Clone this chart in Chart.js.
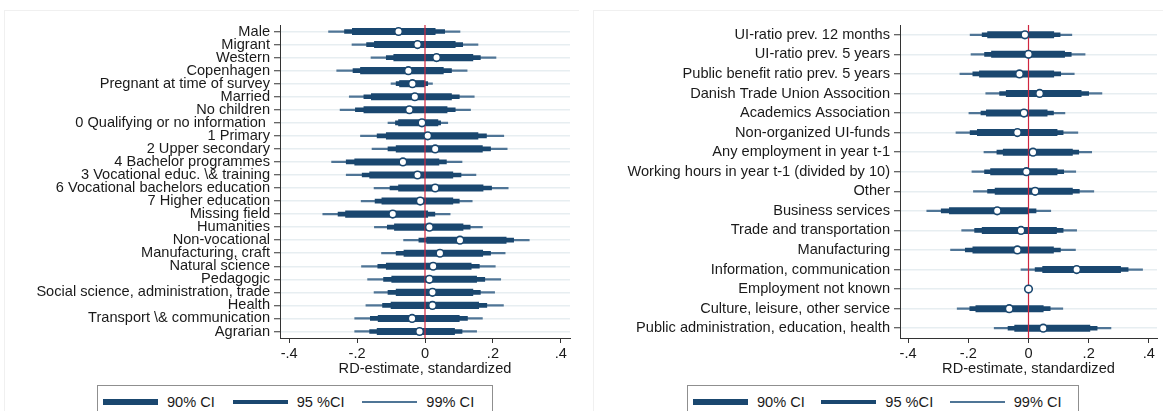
<!DOCTYPE html>
<html>
<head>
<meta charset="utf-8">
<script src="https://cdn.jsdelivr.net/npm/chart.js@4.4.1/dist/chart.umd.min.js"></script>
<style>
  body { margin: 0; background: #fff; width: 1163px; height: 411px; overflow: hidden; position: relative;
         font-family: "Liberation Sans", Arial, sans-serif; }
  .panel { position: absolute; top: 0; }
  .frame { position: absolute; top: 10px; height: 420px; border-top: 1px solid #f0f0f0; border-left: 1px solid #f0f0f0; }
  .legend { position: absolute; top: 385px; height: 34px; border: 1px solid #8f8f8f; box-sizing: border-box;
            display: flex; align-items: center; padding-left: 5px; background: #fff; }
  .item { width: 135px; display: flex; align-items: center; font-size: 14.6px; color: #1a1a1a; }
  .swatch { width: 55px; margin-right: 9px; }
</style>
</head>
<body>
<div class="frame" style="left:4px; width:574px"></div>
<div class="frame" style="left:593px; width:580px"></div>
<canvas id="left" class="panel" style="left:0" width="580" height="385"></canvas>
<canvas id="right" class="panel" style="left:580px" width="583" height="385"></canvas>
<div class="legend" id="legendLeft" style="left:97px; width:396px"></div>
<div class="legend" id="legendRight" style="left:687px; width:392px"></div>
<script>
// individual characteristics
const leftLabels = [
  'Male', 'Migrant', 'Western', 'Copenhagen', 'Pregnant at time of survey', 'Married', 'No children',
  '0 Qualifying or no information ', '1 Primary', '2 Upper secondary', '4 Bachelor programmes',
  '3 Vocational educ. \\& training', '6 Vocational bachelors education', '7 Higher education',
  'Missing field', 'Humanities', 'Non-vocational', 'Manufacturing, craft', 'Natural science',
  'Pedagogic', 'Social science, administration, trade', 'Health', 'Transport \\& communication', 'Agrarian'
];
const leftEst  = [-0.078, -0.022, 0.034, -0.049, -0.037, -0.030, -0.046, -0.009, 0.008, 0.030, -0.065, -0.022,
                  0.030, -0.014, -0.095, 0.013, 0.103, 0.044, 0.024, 0.013, 0.022, 0.022, -0.038, -0.016];
const leftLo90 = [-0.214, -0.149, -0.092, -0.190, -0.075, -0.158, -0.180, -0.078, -0.114, -0.085, -0.207, -0.163,
                  -0.078, -0.127, -0.234, -0.090, 0.005, -0.062, -0.114, -0.098, -0.085, -0.100, -0.138, -0.141];
const leftHi90 = [0.030, 0.089, 0.141, 0.054, 0.000, 0.078, 0.065, 0.038, 0.156, 0.169, 0.041, 0.082,
                  0.171, 0.082, 0.008, 0.112, 0.239, 0.170, 0.136, 0.152, 0.141, 0.158, 0.101, 0.087];
const leftLo95 = [-0.237, -0.172, -0.114, -0.212, -0.085, -0.180, -0.205, -0.087, -0.141, -0.109, -0.232, -0.185,
                  -0.103, -0.147, -0.256, -0.111, -0.018, -0.085, -0.139, -0.122, -0.109, -0.125, -0.161, -0.163];
const leftHi95 = [0.058, 0.111, 0.163, 0.078, 0.008, 0.101, 0.089, 0.046, 0.181, 0.193, 0.063, 0.106,
                  0.196, 0.101, 0.029, 0.133, 0.261, 0.193, 0.160, 0.176, 0.163, 0.182, 0.125, 0.109];
const leftLo99 = [-0.284, -0.215, -0.159, -0.260, -0.100, -0.223, -0.250, -0.109, -0.190, -0.156, -0.275, -0.232,
                  -0.150, -0.188, -0.301, -0.149, -0.063, -0.128, -0.187, -0.169, -0.150, -0.174, -0.207, -0.207];
const leftHi99 = [0.103, 0.156, 0.209, 0.124, 0.022, 0.145, 0.134, 0.067, 0.232, 0.242, 0.109, 0.150,
                  0.245, 0.139, 0.074, 0.169, 0.307, 0.236, 0.207, 0.223, 0.205, 0.231, 0.169, 0.152];

// labour market history
const rightLabels = [
  'UI-ratio prev. 12 months', 'UI-ratio prev. 5 years', 'Public benefit ratio prev. 5 years',
  'Danish Trade Union Assocition', 'Academics Association', 'Non-organized UI-funds',
  'Any employment in year t-1', 'Working hours in year t-1 (divided by 10)', 'Other', 'Business services',
  'Trade and transportation', 'Manufacturing', 'Information, communication', 'Employment not known',
  'Culture, leisure, other service', 'Public administration, education, health'
];
const rightEst  = [-0.012, 0.000, -0.030, 0.037, -0.015, -0.037, 0.015, -0.007, 0.022, -0.104, -0.025, -0.037, 0.160, 0.000, -0.064, 0.049];
const rightLo90 = [-0.136, -0.123, -0.163, -0.074, -0.140, -0.170, -0.084, -0.126, -0.111, -0.263, -0.154, -0.185, 0.047, null, -0.175, -0.046];
const rightHi90 = [0.084, 0.120, 0.084, 0.175, 0.062, 0.095, 0.146, 0.095, 0.146, 0.000, 0.093, 0.083, 0.306, null, 0.049, 0.204];
const rightLo95 = [-0.154, -0.146, -0.185, -0.096, -0.158, -0.194, -0.105, -0.146, -0.136, -0.290, -0.179, -0.210, 0.022, null, -0.195, -0.068];
const rightHi95 = [0.105, 0.142, 0.107, 0.200, 0.083, 0.115, 0.167, 0.117, 0.169, 0.025, 0.115, 0.106, 0.331, null, 0.072, 0.228];
const rightLo99 = [-0.194, -0.191, -0.228, -0.142, -0.198, -0.241, -0.148, -0.188, -0.183, -0.338, -0.222, -0.259, -0.025, null, -0.237, -0.114];
const rightHi99 = [0.144, 0.188, 0.152, 0.244, 0.121, 0.164, 0.210, 0.157, 0.217, 0.074, 0.160, 0.156, 0.379, null, 0.114, 0.274];

const xTicks = [-0.4, -0.2, 0, 0.2, 0.4];
const xTickLabels = ['-.4', '-.2', '0', '.2', '.4'];
const xTitle = 'RD-estimate, standardized';
const ciNames = ['90% CI', '95 %CI', '99% CI'];

const navy = '#1a476f';
const light = '#4f7596';
const font = { family: '"Liberation Sans", Arial, sans-serif', size: 14.6 };

function ranges(lo, hi) {
  return lo.map((v, i) => (v === null ? null : [v, hi[i]]));
}

// red reference line at zero, under the point markers
const zeroLine = {
  id: 'zeroLine',
  beforeDatasetDraw(chart, args) {
    if (args.meta.type !== 'line') return;
    const x = chart.scales.x.getPixelForValue(0);
    const { top, bottom } = chart.chartArea;
    const ctx = chart.ctx;
    ctx.save();
    ctx.strokeStyle = '#d0263f';
    ctx.lineWidth = 1.2;
    ctx.beginPath();
    ctx.moveTo(x, top);
    ctx.lineTo(x, bottom);
    ctx.stroke();
    ctx.restore();
  }
};

function coefChart(id, labels, est, lo90, hi90, lo95, hi95, lo99, hi99, axisWidth, padRight) {
  return new Chart(document.getElementById(id), {
    type: 'bar',
    data: {
      labels: labels,
      datasets: [
        { label: ciNames[2], data: ranges(lo99, hi99), backgroundColor: light, barThickness: 1.6, grouped: false, order: 4 },
        { label: ciNames[1], data: ranges(lo95, hi95), backgroundColor: navy, barThickness: 4, grouped: false, order: 3 },
        { label: ciNames[0], data: ranges(lo90, hi90), backgroundColor: navy, barThickness: 6.4, grouped: false, order: 2 },
        { type: 'line', label: 'estimate', data: est, indexAxis: 'y', showLine: false,
          pointRadius: 3.8, pointBorderWidth: 1.6, pointBackgroundColor: '#fff', pointBorderColor: navy, order: 1 }
      ]
    },
    options: {
      indexAxis: 'y',
      responsive: false,
      animation: false,
      layout: { padding: { top: 25, right: padRight, left: 0, bottom: 0 } },
      plugins: { legend: { display: false }, tooltip: { enabled: false } },
      scales: {
        x: {
          min: -0.427, max: 0.427,
          afterBuildTicks: s => { s.ticks = xTicks.map(v => ({ value: v })); },
          afterFit: s => { s.height = 47; },
          ticks: { font: font, color: '#1a1a1a', padding: 2, maxRotation: 0,
                   callback: v => xTickLabels[xTicks.indexOf(v)] },
          grid: { drawOnChartArea: false, tickLength: 5, tickColor: '#333', tickWidth: 1 },
          border: { color: '#333', width: 1 },
          title: { display: true, text: xTitle, font: font, color: '#1a1a1a', padding: { top: 0, bottom: 7 } }
        },
        y: {
          afterFit: s => { s.width = axisWidth; },
          ticks: { font: font, color: '#1a1a1a', padding: 4, autoSkip: false },
          grid: { offset: false, color: '#e7eef1', lineWidth: 1.5, tickLength: 6, tickColor: '#333', tickWidth: 1 },
          border: { color: '#333', width: 1 }
        }
      }
    },
    plugins: [zeroLine]
  });
}

coefChart('left', leftLabels, leftEst, leftLo90, leftHi90, leftLo95, leftHi95, leftLo99, leftHi99, 280, 10);
coefChart('right', rightLabels, rightEst, rightLo90, rightHi90, rightLo95, rightHi95, rightLo99, rightHi99, 320, 6);

function buildLegend(id) {
  const box = document.getElementById(id);
  const widths = [6, 4, 1.6];
  const colors = [navy, navy, light];
  ciNames.forEach((name, i) => {
    const item = document.createElement('div');
    item.className = 'item';
    item.innerHTML = `<div class="swatch" style="height:${widths[i]}px;background:${colors[i]}"></div><span>${name}</span>`;
    box.appendChild(item);
  });
}
buildLegend('legendLeft');
buildLegend('legendRight');
</script>
</body>
</html>
